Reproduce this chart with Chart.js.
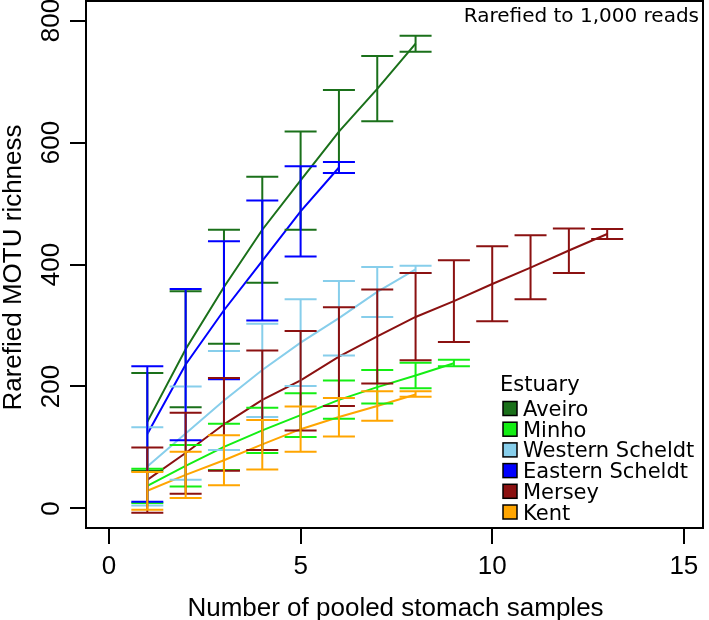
<!DOCTYPE html>
<html><head><meta charset="utf-8">
<script src="https://cdn.jsdelivr.net/npm/chart.js@4/dist/chart.umd.min.js"></script>
<style>html,body{margin:0;padding:0;background:#fff;}#wrap{width:709px;height:620px;position:relative;}</style>
</head><body><div id="wrap"><canvas id="c"></canvas></div>
<script>
// ---- data ----
const estuaries = ["Aveiro", "Minho", "Western Scheldt", "Eastern Scheldt", "Mersey", "Kent"];
const seriesColors = ["#1a701a", "#14ee14", "#87ceeb", "#0000ff", "#8b1111", "#ffa500"];

const aveiroMean  = [142, 261, 363, 457, 538, 618, 688, 762];
const aveiroLow   = [62, 166, 270, 370, 457, 550, 635, 749];
const aveiroHigh  = [222, 356, 457, 544, 618, 686, 742, 775];

const minhoMean   = [37, 70, 101, 128, 153, 178, 199, 218, 238];
const minhoLow    = [9, 36, 63, 91, 117, 147, 172, 197, 233];
const minhoHigh   = [65, 104, 139, 165, 189, 210, 227, 239, 244];

const wScheldtMean = [69, 123, 177, 227, 272, 312, 355, 392];
const wScheldtLow  = [5, 47, 96, 150, 201, 251, 314, 386];
const wScheldtHigh = [133, 200, 258, 303, 343, 373, 396, 398];

const eScheldtMean = [122, 236, 325, 406, 487, 559];
const eScheldtLow  = [11, 112, 212, 308, 413, 550];
const eScheldtHigh = [233, 360, 438, 505, 561, 568];

const merseyMean  = [47, 91, 138, 178, 210, 249, 282, 314, 340, 368, 395, 423, 450];
const merseyLow   = [-7, 24, 62, 96, 128, 168, 205, 243, 273, 307, 343, 386, 442];
const merseyHigh  = [100, 157, 214, 259, 291, 330, 359, 386, 407, 430, 448, 459, 458];

const kentMean    = [29, 55, 79, 105, 130, 150, 168, 187];
const kentLow     = [-2, 17, 38, 64, 93, 118, 144, 183];
const kentHigh    = [60, 93, 120, 145, 167, 181, 192, 192];

const xTickValues = [0, 5, 10, 15];
const yTickValues = [0, 200, 400, 600, 800];
const xTitle = "Number of pooled stomach samples";
const yTitle = "Rarefied MOTU richness";
const annotation = "Rarefied to 1,000 reads";
const legendTitle = "Estuary";

// ---- build datasets ----
const means = [aveiroMean, minhoMean, wScheldtMean, eScheldtMean, merseyMean, kentMean];
const lows  = [aveiroLow, minhoLow, wScheldtLow, eScheldtLow, merseyLow, kentLow];
const highs = [aveiroHigh, minhoHigh, wScheldtHigh, eScheldtHigh, merseyHigh, kentHigh];

const datasets = estuaries.map((name, k) => ({
  label: name,
  data: means[k].map((m, i) => ({x: i + 1, y: m})),
  errLow: lows[k],
  errHigh: highs[k],
  borderColor: seriesColors[k],
  backgroundColor: seriesColors[k],
  borderWidth: 2,
  pointRadius: 0,
  tension: 0,
  fill: false,
  order: estuaries.length - k
}));

const AX_FONT = '26px "Liberation Sans", Arial, sans-serif';
const LG_FONT = '21px "DejaVu Sans", sans-serif';

const decor = {
  id: 'decor',
  afterDatasetsDraw(chart) {
    const {ctx, scales: {x, y}} = chart;
    chart.data.datasets.forEach(ds => {
      ctx.save();
      ctx.strokeStyle = ds.borderColor;
      ctx.lineWidth = 2;
      ds.data.forEach((p, i) => {
        const px = x.getPixelForValue(p.x);
        const yl = y.getPixelForValue(ds.errLow[i]);
        const yh = y.getPixelForValue(ds.errHigh[i]);
        ctx.beginPath();
        ctx.moveTo(px, yl); ctx.lineTo(px, yh);
        ctx.moveTo(px - 16, yl); ctx.lineTo(px + 16, yl);
        ctx.moveTo(px - 16, yh); ctx.lineTo(px + 16, yh);
        ctx.stroke();
      });
      ctx.restore();
    });
  },
  afterDraw(chart) {
    const {ctx, chartArea: a, scales: {x, y}} = chart;
    ctx.save();
    // box
    ctx.strokeStyle = '#000'; ctx.lineWidth = 2;
    ctx.strokeRect(a.left, a.top, a.right - a.left, a.bottom - a.top);
    ctx.fillStyle = '#000';
    ctx.font = AX_FONT;
    // x tick labels
    ctx.textAlign = 'center'; ctx.textBaseline = 'alphabetic';
    xTickValues.forEach(v => ctx.fillText(String(v), x.getPixelForValue(v), 574));
    // x title
    ctx.fillText(xTitle, (a.left + a.right) / 2 + 1, 616);
    // y tick labels (rotated)
    yTickValues.forEach(v => {
      ctx.save();
      ctx.translate(59, y.getPixelForValue(v));
      ctx.rotate(-Math.PI / 2);
      ctx.fillText(String(v), 0, 0);
      ctx.restore();
    });
    // y title
    ctx.save();
    ctx.translate(21, (a.top + a.bottom) / 2 + 3);
    ctx.rotate(-Math.PI / 2);
    ctx.fillText(yTitle, 0, 0);
    ctx.restore();
    // annotation
    ctx.font = '20px "DejaVu Sans", sans-serif';
    ctx.textAlign = 'right';
    ctx.fillText(annotation, 699, 22);
    // legend
    ctx.font = LG_FONT;
    ctx.textAlign = 'left';
    ctx.fillText(legendTitle, 500, 391);
    estuaries.forEach((name, k) => {
      const base = 416 + k * 20.7;
      ctx.fillStyle = seriesColors[k];
      ctx.fillRect(503, base - 14.5, 14, 14);
      ctx.strokeStyle = '#000'; ctx.lineWidth = 1.5;
      ctx.strokeRect(503, base - 14.5, 14, 14);
      ctx.fillStyle = '#000';
      ctx.fillText(name, 523, base);
    });
    ctx.restore();
  }
};

new Chart(document.getElementById('c'), {
  type: 'line',
  data: {datasets},
  options: {
    responsive: true,
    maintainAspectRatio: false,
    devicePixelRatio: 1,
    animation: false,
    layout: {padding: {left: 70, right: 6, top: 1, bottom: 76}},
    plugins: {legend: {display: false}, tooltip: {enabled: false}, title: {display: false}},
    scales: {
      x: {
        type: 'linear', min: -0.6, max: 15.5,
        afterBuildTicks: s => { s.ticks = xTickValues.map(v => ({value: v})); },
        ticks: {display: false},
        grid: {display: true, drawOnChartArea: false, drawTicks: true, tickLength: 16, color: '#000', lineWidth: 2},
        border: {display: true, color: '#000', width: 2}
      },
      y: {
        type: 'linear', min: -32, max: 832,
        afterBuildTicks: s => { s.ticks = yTickValues.map(v => ({value: v})); },
        ticks: {display: false},
        grid: {display: true, drawOnChartArea: false, drawTicks: true, tickLength: 16, color: '#000', lineWidth: 2},
        border: {display: true, color: '#000', width: 2}
      }
    }
  },
  plugins: [decor]
});
</script>
</body></html>
